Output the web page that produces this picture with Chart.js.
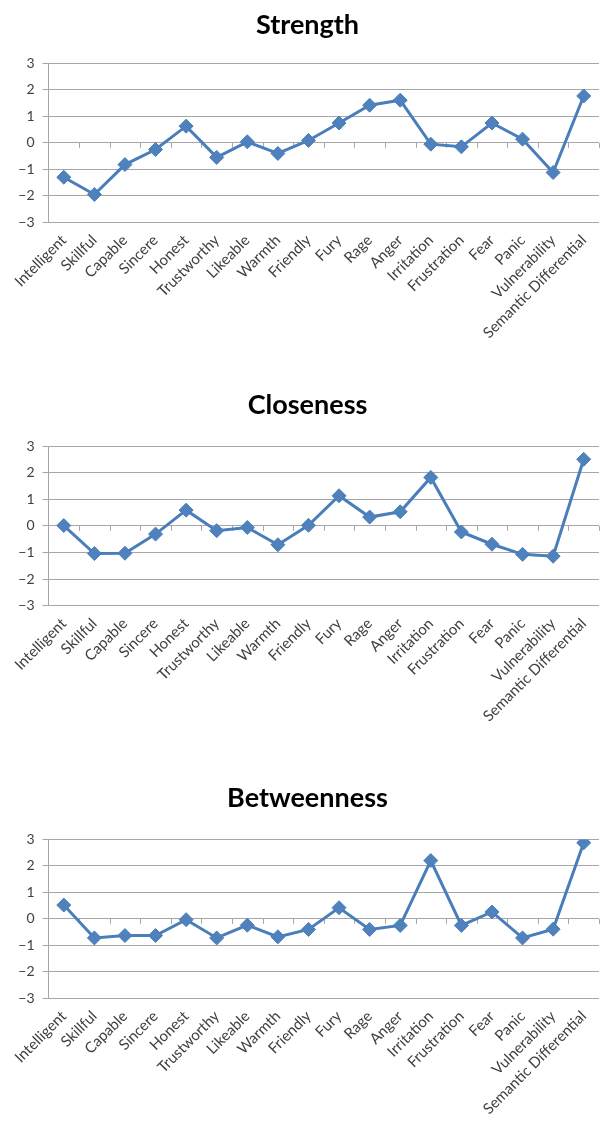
<!DOCTYPE html>
<html>
<head>
<meta charset="utf-8">
<script src="https://cdn.jsdelivr.net/npm/chart.js@4"></script>
<style>
  html, body { margin: 0; padding: 0; background: #fff; }
  body { width: 600px; height: 1126px; position: relative; overflow: hidden; }
  .panel { position: absolute; left: 0; width: 600px; }
  .panel canvas { display: block; }
</style>
</head>
<body>
<div class="panel" style="top:0px;"><canvas id="strengthChart" width="600" height="370"></canvas></div>
<div class="panel" style="top:380px;"><canvas id="closenessChart" width="600" height="385"></canvas></div>
<div class="panel" style="top:770px;"><canvas id="betweennessChart" width="600" height="356"></canvas></div>
<script>
// Word categories along the horizontal axis
const categories = ['Intelligent', 'Skillful', 'Capable', 'Sincere', 'Honest', 'Trustworthy',
  'Likeable', 'Warmth', 'Friendly', 'Fury', 'Rage', 'Anger', 'Irritation', 'Frustration',
  'Fear', 'Panic', 'Vulnerability', 'Semantic Differential'];

// Centrality scores per category
const strength = [-1.3, -1.95, -0.82, -0.25, 0.63, -0.55, 0.04, -0.4, 0.09,
  0.75, 1.42, 1.61, -0.05, -0.15, 0.75, 0.14, -1.12, 1.77];
const closeness = [0.01, -1.04, -1.03, -0.31, 0.59, -0.18, -0.06, -0.71, 0.02,
  1.13, 0.33, 0.53, 1.82, -0.23, -0.69, -1.07, -1.14, 2.5];
const betweenness = [0.52, -0.72, -0.63, -0.63, -0.03, -0.72, -0.24, -0.68, -0.4,
  0.42, -0.4, -0.25, 2.2, -0.25, 0.26, -0.72, -0.39, 2.87];

// Value axis tick values
const yTickValues = [-3, -2, -1, 0, 1, 2, 3];

const GRID = '#a6a6a6';
const LINE = '#4A7EBB';
const MARKER = '#4F81BD';
const TEXT = '#404040';
const FONT = 'Lato, "Open Sans", sans-serif';

// Short tick marks on the zero line between categories
const zeroTickMarks = {
  id: 'zeroTickMarks',
  beforeDatasetsDraw(chart) {
    const xs = chart.scales.x, ys = chart.scales.y;
    const y0 = ys.getPixelForValue(0);
    const ctx = chart.ctx;
    ctx.save();
    ctx.strokeStyle = GRID;
    ctx.lineWidth = 1;
    ctx.beginPath();
    for (let i = 1; i <= categories.length; i++) {
      const px = Math.round(xs.getPixelForValue(i - 0.5)) + 0.5;
      ctx.moveTo(px, y0);
      ctx.lineTo(px, y0 + 5);
    }
    ctx.stroke();
    ctx.restore();
  }
};

function makeChart(id, title, values, layout) {
  return new Chart(document.getElementById(id), {
    type: 'line',
    data: {
      labels: categories,
      datasets: [{
        data: values,
        borderColor: LINE,
        borderWidth: 3,
        tension: 0,
        pointStyle: 'rectRot',
        pointRadius: 7,
        pointBackgroundColor: MARKER,
        pointBorderColor: LINE,
        pointBorderWidth: 1
      }]
    },
    options: {
      responsive: false,
      animation: false,
      layout: { autoPadding: false, padding: { left: 16, right: 1, top: 0, bottom: 0 } },
      plugins: {
        legend: { display: false },
        tooltip: { enabled: false },
        title: {
          display: true,
          text: title,
          color: '#000',
          font: { family: FONT, size: 27, weight: 'bold', lineHeight: 1.2 },
          padding: { top: layout.titleTop, bottom: layout.titleBottom }
        }
      },
      scales: {
        x: {
          type: 'category',
          offset: true,
          grid: { display: false, drawTicks: false },
          border: { display: false },
          ticks: {
            autoSkip: false,
            minRotation: 45,
            maxRotation: 45,
            color: TEXT,
            padding: layout.labelPad,
            font: { family: FONT, size: 15 }
          },
          afterFit(scale) {
            scale.height = layout.axisHeight;
            // the y axis already leaves room on the left; keep the plot full width
            scale.paddingLeft = 0;
            scale.paddingRight = 0;
          }
        },
        y: {
          min: -3,
          max: 3,
          afterBuildTicks(scale) { scale.ticks = yTickValues.map(v => ({ value: v })); },
          grid: { color: GRID, lineWidth: 1, tickLength: 6 },
          border: { color: GRID },
          ticks: {
            color: TEXT,
            padding: 8,
            font: { family: FONT, size: 14 },
            callback: v => (v < 0 ? '\u2212' + Math.abs(v) : String(v))
          },
          afterFit(scale) { scale.width = 32.5; }
        }
      }
    },
    plugins: [zeroTickMarks]
  });
}

makeChart('strengthChart', 'Strength', strength,
  { titleTop: 9, titleBottom: 22, axisHeight: 147.7, labelPad: 9 });
makeChart('closenessChart', 'Closeness', closeness,
  { titleTop: 9, titleBottom: 24.6, axisHeight: 159.3, labelPad: 9 });
makeChart('betweennessChart', 'Betweenness', betweenness,
  { titleTop: 12, titleBottom: 25, axisHeight: 127.7, labelPad: 9 });
</script>
</body>
</html>
